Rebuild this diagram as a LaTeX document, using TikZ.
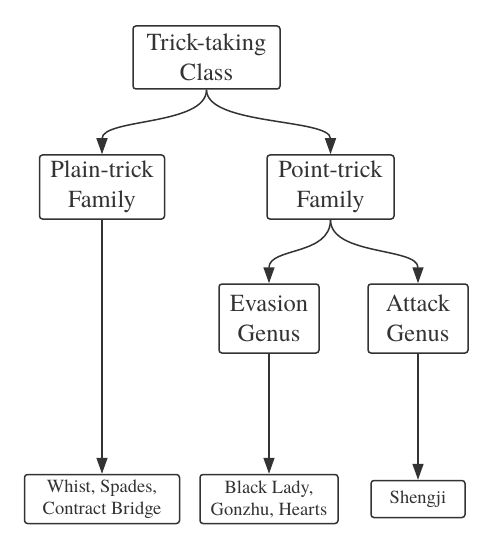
\documentclass[tikz,border=0pt]{standalone}
\usepackage{fontspec}
\setmainfont{texgyretermes}[Extension=.otf,UprightFont=*-regular]
\usetikzlibrary{arrows.meta}
\definecolor{ink}{HTML}{333333}
\begin{document}
\begin{tikzpicture}[x=1pt,y=-1pt]
			\tikzstyle{BIG}=[draw=ink,text=ink,line width=1.5pt,rounded corners=3pt,align=center,inner sep=0pt,font=\fontsize{24.5}{30}\selectfont]
			\tikzstyle{GAME}=[draw=ink,text=ink,line width=1.5pt,rounded corners=3pt,align=center,inner sep=0pt,font=\fontsize{18.5}{22}\selectfont]
			\tikzstyle{LINK}=[draw=ink,line width=1.5pt,-{Triangle[length=16pt,width=11pt]}]
			\useasboundingbox (0,0) rectangle (493,548);
			\begin{scope}
			\node[BIG,minimum width=147pt,minimum height=63pt] (class) at (206.5,57.5) {Trick-taking\\Class};
			\node[BIG,minimum width=125pt,minimum height=64pt] (plain) at (102,187) {Plain-trick\\Family};
			\node[BIG,minimum width=127pt,minimum height=64pt] (point) at (330.5,187) {Point-trick\\Family};
			\node[BIG,minimum width=100pt,minimum height=69pt] (evasion) at (269,318.5) {Evasion\\Genus};
			\node[BIG,minimum width=100pt,minimum height=69pt] (attack) at (418,318.5) {Attack\\Genus};
			%
			\node[GAME,minimum width=155pt,minimum height=49pt] (whist) at (102,499) {Whist, Spades,\\Contract Bridge};
			\node[GAME,minimum width=138pt,minimum height=49pt] (lady) at (269,499) {Black Lady,\\Gonzhu, Hearts};
			\node[GAME,minimum width=94pt,minimum height=37pt] (shengji) at (418,499) {Shengji};
			\end{scope}

			\draw[LINK] (class.south) .. controls +(0,36) and +(0,-36) .. (plain.north);
			\draw[LINK] (class.south) .. controls +(0,36) and +(0,-36) .. (point.north);
			\draw[LINK] (point.south) .. controls +(0,36) and +(0,-36) .. (evasion.north);
			\draw[LINK] (point.south) .. controls +(0,36) and +(0,-36) .. (attack.north);
			\draw[LINK] (plain.south) -- (whist.north);
			\draw[LINK] (evasion.south) -- (lady.north);
			\draw[LINK] (attack.south) -- (shengji.north);
		\end{tikzpicture}
\end{document}
